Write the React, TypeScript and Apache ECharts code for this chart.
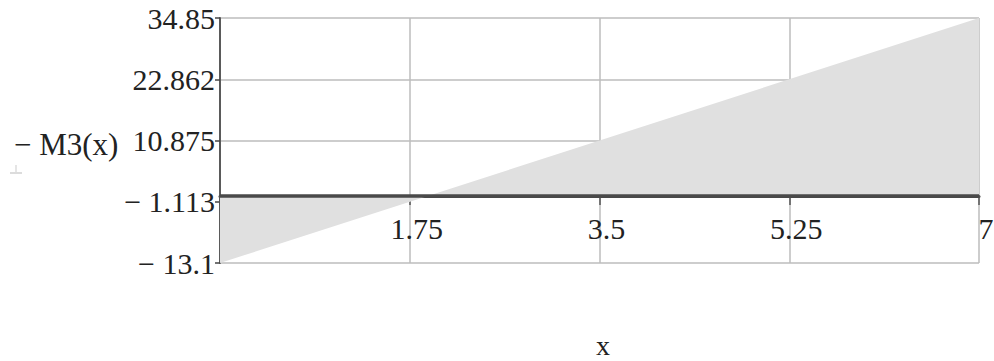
import { useEffect, useRef } from "react";
import * as echarts from "echarts";

// −M3(x) is linear in x: its value at both ends of the span
const X_VALUES = [0, 7];
const NEG_M3 = [-13.1, 34.85];

// Axis ticks and their printed labels
const X_TICKS = [0, 1.75, 3.5, 5.25, 7];
const X_TICK_LABELS = ["", "1.75", "3.5", "5.25", "7"];
const Y_TICKS = [-13.1, -1.113, 10.875, 22.862, 34.85];
const Y_TICK_LABELS = ["\u2212 13.1", "\u2212 1.113", "10.875", "22.862", "34.85"];

const Y_NAME = "\u2212 M3(x)";
const X_NAME = "x";

const FONT = "'Liberation Serif', 'Times New Roman', serif";

function labelFor(ticks: number[], labels: string[], v: number): string {
  let best = 0;
  for (let i = 1; i < ticks.length; i++) {
    if (Math.abs(ticks[i] - v) < Math.abs(ticks[best] - v)) best = i;
  }
  return Math.abs(ticks[best] - v) < 1e-6 ? labels[best] : "";
}

export default function App() {
  const ref = useRef<HTMLDivElement>(null);

  useEffect(() => {
    if (!ref.current) return;
    const chart = echarts.init(ref.current, null, { renderer: "svg" });
    const gridColor = "#bdbdbd";

    chart.setOption({
      animation: false,
      backgroundColor: "#ffffff",
      grid: {
        left: 220,
        top: 18,
        width: 759,
        height: 245,
        outerBoundsMode: "none",
      },
      xAxis: {
        type: "value",
        min: X_TICKS[0],
        max: X_TICKS[X_TICKS.length - 1],
        interval: 1.75,
        axisLine: { show: true, onZero: true, lineStyle: { color: "#4a4a4a", width: 3 } },
        axisTick: { show: true, length: 9, lineStyle: { color: "#555", width: 1.5 } },
        axisLabel: {
          color: "#222",
          fontFamily: FONT,
          fontSize: 30,
          margin: -50,
          padding: [0, 0, 0, 14],
          formatter: (v: number) => labelFor(X_TICKS, X_TICK_LABELS, v),
        },
        splitLine: { show: true, lineStyle: { color: gridColor, width: 1.5 } },
      },
      yAxis: {
        type: "value",
        min: Y_TICKS[0],
        max: Y_TICKS[Y_TICKS.length - 1],
        axisLine: { show: true, onZero: false, lineStyle: { color: "#5a5a5a", width: 2 } },
        axisTick: {
          show: true,
          length: 5,
          customValues: Y_TICKS,
          lineStyle: { color: "#444", width: 1.5 },
        },
        axisLabel: {
          customValues: Y_TICKS,
          color: "#222",
          fontFamily: FONT,
          fontSize: 30,
          margin: 5,
          padding: [8, 0, 0, 0],
          formatter: (v: number) => labelFor(Y_TICKS, Y_TICK_LABELS, v),
        },
        // the line just under the zero axis is left out
        splitLine: {
          show: true,
          lineStyle: {
            color: [gridColor, "rgba(0,0,0,0)", gridColor, gridColor, gridColor],
            width: 1.5,
          },
        },
      },
      graphic: [
        {
          type: "text",
          left: 14,
          top: 129,
          style: { text: Y_NAME, font: `31px ${FONT}`, fill: "#222" },
        },
        // small faint mark below the axis name
        {
          type: "line",
          shape: { x1: 16, y1: 165, x2: 16, y2: 173 },
          style: { stroke: "#dcdcdc", lineWidth: 1.5 },
        },
        {
          type: "line",
          shape: { x1: 10, y1: 173, x2: 22, y2: 173 },
          style: { stroke: "#dcdcdc", lineWidth: 2 },
        },
        {
          type: "text",
          x: 603,
          y: 345,
          style: {
            text: X_NAME,
            font: `28px ${FONT}`,
            fill: "#222",
            align: "center",
            verticalAlign: "middle",
          },
        },
      ],
      series: [
        {
          type: "line",
          data: X_VALUES.map((x, i) => [x, NEG_M3[i]]),
          showSymbol: false,
          lineStyle: { width: 0 },
          areaStyle: { color: "#e0e0e0", opacity: 1 },
          markLine: {
            silent: true,
            symbol: "none",
            label: { show: false },
            lineStyle: { color: "#4a4a4a", width: 3.5, type: "solid" },
            data: [{ yAxis: 0 }],
          },
        },
      ],
    });

    return () => chart.dispose();
  }, []);

  return (
    <div
      ref={ref}
      style={{ position: "fixed", left: 0, top: 0, width: 994, height: 361 }}
    />
  );
}
